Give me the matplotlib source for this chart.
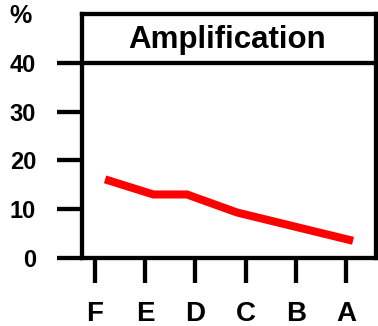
import matplotlib
matplotlib.use('Agg')
import matplotlib.pyplot as plt

# categories on the x axis and the measured curve
categories = ['F', 'E', 'D', 'C', 'B', 'A']
line_x = [0.2, 1.16, 1.83, 2.83, 5.14]
line_y = [16.1, 13.0, 13.0, 9.3, 3.5]
yticks = [0, 10, 20, 30, 40]
title = 'Amplification'

plt.rcParams['font.family'] = ['Liberation Sans', 'DejaVu Sans']
plt.rcParams['font.weight'] = 'bold'

fig = plt.figure(figsize=(3.78, 3.26), dpi=100)
ax = fig.add_axes([0.217, 0.209, 0.778, 0.748])

ax.plot(line_x, line_y, color='#ff0000', lw=5.8, solid_capstyle='butt',
        solid_joinstyle='miter')

# title band inside the box
ax.axhline(40, color='black', lw=3.1)
ax.text(2.64, 44.6, title, ha='center', va='center', fontsize=22.5,
        fontweight='bold')

ax.set_xlim(-0.26, 5.6)
ax.set_ylim(0, 50)
ax.set_xticks(range(len(categories)))
ax.set_xticklabels(categories)
ax.set_yticks(yticks)
ax.set_yticklabels([str(v) for v in yticks])

for s in ax.spines.values():
    s.set_linewidth(3.1)
ax.tick_params(axis='both', direction='out', length=18, width=3.1)
ax.tick_params(axis='x', labelsize=20, pad=13)
ax.tick_params(axis='y', labelsize=17, pad=15)

fig.text(20/378, 1 - 16/326, '%', ha='center', va='center', fontsize=18,
         fontweight='bold')

fig.savefig('out.png', dpi=100)
